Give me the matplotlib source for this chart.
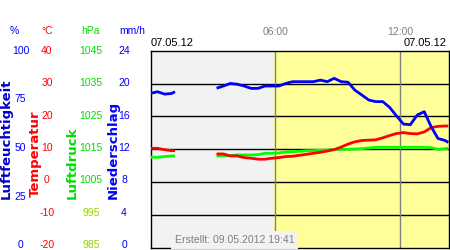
import numpy as np
import matplotlib
matplotlib.use("Agg")
import matplotlib.pyplot as plt

plt.rcParams['font.family'] = ['Liberation Sans', 'DejaVu Sans']
plt.rcParams['axes.unicode_minus'] = False

# time of day in hours (10-20 min readings), nan marks the gap in the data
hours = [0.0, 0.33, 0.67, 1.0, 1.17, 2.0,
         3.17, 3.5, 3.83, 4.17, 4.5, 4.83, 5.17, 5.5, 5.83, 6.17, 6.5, 6.83,
         7.17, 7.5, 7.83, 8.17, 8.5, 8.83, 9.17, 9.5, 9.83, 10.17, 10.5, 10.83,
         11.17, 11.5, 11.83, 12.17, 12.5, 12.83, 13.17, 13.5, 13.83, 14.17, 14.33]

humidity = [78.4, 79.2, 78.0, 78.3, 79.2, np.nan,
            81.0, 82.1, 83.4, 83.0, 82.1, 80.9, 80.9, 82.1, 82.1, 82.1, 83.4, 84.3,
            84.3, 84.3, 84.3, 85.1, 84.3, 86.0, 84.3, 84.0, 80.0, 77.5, 75.0, 74.2,
            74.2, 71.3, 67.0, 62.8, 62.5, 67.4, 69.1, 61.5, 55.5, 54.5, 53.5]

temperature = [10.3, 10.3, 9.9, 9.6, 9.6, np.nan,
               8.6, 8.6, 8.0, 8.0, 7.5, 7.3, 7.0, 7.0, 7.3, 7.5, 7.8, 7.9,
               8.2, 8.5, 8.8, 9.1, 9.5, 9.9, 10.7, 11.6, 12.3, 12.7, 12.8, 12.9,
               13.5, 14.2, 14.8, 15.1, 14.8, 14.7, 15.3, 16.6, 17.0, 17.1, 17.1]

pressure = [1012.6, 1012.6, 1012.8, 1013.0, 1013.0, np.nan,
            1013.0, 1013.0, 1013.1, 1013.3, 1013.3, 1013.3, 1013.4, 1013.8, 1013.8,
            1013.9, 1014.2, 1014.3, 1014.4, 1014.6, 1014.6, 1014.7, 1014.8, 1015.0,
            1015.0, 1015.0, 1015.1, 1015.2, 1015.4, 1015.6, 1015.6, 1015.6, 1015.6,
            1015.6, 1015.6, 1015.6, 1015.6, 1015.5, 1015.0, 1015.2, 1015.3]

hum_ticks = [0, 25, 50, 75, 100]
temp_ticks = [-20, -10, 0, 10, 20, 30, 40]
pres_ticks = [985, 995, 1005, 1015, 1025, 1035, 1045]
rain_ticks = [0, 4, 8, 12, 16, 20, 24]
time_ticks = [6, 12]
time_labels = ["06:00", "12:00"]
sunrise = 5.95
x_end = 14.36

W, H = 450.0, 250.0
plot_rect = [150.7 / W, 2 / H, 298.3 / W, 197.3 / H]
label_rect = [150.7 / W, 6 / H, 298.3 / W, 194 / H]   # scale labels sit a bit higher

fig = plt.figure(figsize=(4.5, 2.5), dpi=100)


def scale_labels(lim, ticks, pad, color):
    # invisible axes that only carries a scale's tick labels
    a = fig.add_axes(label_rect, zorder=-1)
    a.patch.set_visible(False)
    for s in a.spines.values():
        s.set_visible(False)
    a.set_xticks([])
    a.set_ylim(*lim)
    a.set_yticks(ticks)
    a.tick_params(axis="y", length=0, pad=pad, labelsize=7.5, labelcolor=color)
    for lab in a.get_yticklabels():
        lab.set_horizontalalignment("center")
    return a


scale_labels((0, 100), hum_ticks, 93.7, "#0000ff")
scale_labels((-20, 40), temp_ticks, 74.7, "#ff0000")
lp = scale_labels((985, 1045), pres_ticks, 43, "#00dd00")
for lab in lp.get_yticklabels()[:2]:
    lab.set_color("#99cc00")
scale_labels((0, 24), rain_ticks, 19.2, "#0000ff")

ax = fig.add_axes(plot_rect)

# background: night grey, day yellow
ax.axvspan(0, sunrise, color="#f2f2f2", lw=0, zorder=0)
ax.axvspan(sunrise, x_end, color="#ffff99", lw=0, zorder=0)
for r in rain_ticks[1:-1]:
    ax.axhline(r, color="black", lw=1, zorder=1)
for t in time_ticks:
    ax.axvline(t, color="#808080", lw=1, zorder=1)

ax.set_xlim(0, x_end)
ax.set_ylim(0, 24)
for s in ax.spines.values():
    s.set_color("black")
    s.set_linewidth(1)
ax.set_yticks([])
ax.xaxis.tick_top()
ax.set_xticks(time_ticks)
ax.set_xticklabels(time_labels)
ax.tick_params(axis="x", length=0, pad=10, labelsize=7.5, labelcolor="#808080")


def data_axis(lim):
    a = ax.twinx()
    a.set_ylim(*lim)
    a.set_xlim(0, x_end)
    a.set_yticks([])
    for s in a.spines.values():
        s.set_visible(False)
    return a


ax_p = data_axis((985, 1045))
ax_t = data_axis((-20, 40))
ax_h = data_axis((0, 100))
ax_p.plot(hours, pressure, color="#00ff00", lw=2, solid_capstyle="butt")
ax_t.plot(hours, temperature, color="#ff0000", lw=2, solid_capstyle="butt")
ax_h.plot(hours, humidity, color="#0000ff", lw=2, solid_capstyle="butt")

# headers and axis names
fig.text(14 / W, 1 - 31 / H, "%", color="#0000ff", ha="center", va="center", fontsize=7.5)
fig.text(47 / W, 1 - 31 / H, "°C", color="#ff0000", ha="center", va="center", fontsize=7.5)
fig.text(90 / W, 1 - 31 / H, "hPa", color="#00dd00", ha="center", va="center", fontsize=7.5)
fig.text(132.5 / W, 1 - 31 / H, "mm/h", color="#0000ff", ha="center", va="center", fontsize=7.5)

names = [("Luftfeuchtigkeit", 6, 199, "#0000cc"),
         ("Temperatur", 35.5, 197, "#ff0000"),
         ("Luftdruck", 72.5, 199, "#00dd00"),
         ("Niederschlag", 113, 199, "#0000ff")]
for txt, x, y, c in names:
    fig.text(x / W, 1 - y / H, txt, color=c, rotation=90, ha="center", va="bottom",
             fontsize=9.5, fontweight="bold", family="DejaVu Sans")

fig.text(150.7 / W, 1 - 43 / H, "07.05.12", ha="left", va="center", fontsize=8)
fig.text(446.5 / W, 1 - 43 / H, "07.05.12", ha="right", va="center", fontsize=8)
fig.text(175 / W, 1 - 240 / H, "Erstellt: 09.05.2012 19:41", ha="left", va="center",
         fontsize=7.6, color="#808080",
         bbox=dict(boxstyle="square,pad=0.35", fc="#f2f2f2", ec="none"))

fig.savefig("out.png", dpi=100)
